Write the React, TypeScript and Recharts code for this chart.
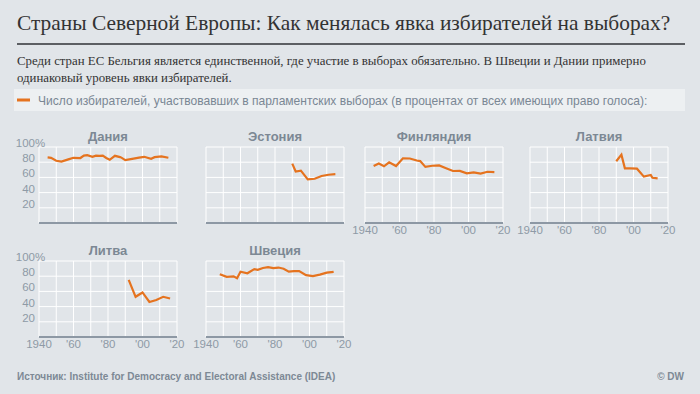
import React from "react";
import { LineChart, Line, XAxis, YAxis, CartesianGrid } from "recharts";

// axes
const decadeTicks = [1940, 1950, 1960, 1970, 1980, 1990, 2000, 2010, 2020];
const xLabelYears = [1940, 1960, 1980, 2000, 2020];
const xLabelTexts = ["1940", "'60", "'80", "'00", "'20"];
const yTicks = [0, 20, 40, 60, 80, 100];
const yLabelTexts = ["", "20", "40", "60", "80", "100"];

// turnout, % of registered voters
const denmarkYears = [1945, 1947, 1950, 1953, 1957, 1960, 1964, 1966, 1968, 1971, 1973, 1975, 1977, 1979, 1981, 1984, 1987, 1988, 1990, 1994, 1998, 2001, 2005, 2007, 2011, 2015];
const denmarkTurnout = [86.3, 85.8, 81.9, 80.7, 83.7, 85.8, 85.5, 88.6, 89.3, 87.2, 88.7, 88.2, 88.7, 85.6, 83.2, 88.4, 86.7, 85.7, 82.8, 84.3, 86.0, 87.1, 84.5, 86.6, 87.7, 85.9];

const estoniaYears = [1990, 1992, 1995, 1999, 2003, 2007, 2011, 2015];
const estoniaTurnout = [78.2, 67.8, 68.9, 57.4, 58.2, 61.9, 63.5, 64.2];

const finlandYears = [1945, 1948, 1951, 1954, 1958, 1962, 1966, 1970, 1972, 1975, 1979, 1983, 1987, 1991, 1995, 1999, 2003, 2007, 2011, 2015];
const finlandTurnout = [74.9, 78.2, 74.6, 79.9, 75.0, 85.1, 84.9, 82.2, 81.4, 73.8, 75.3, 75.7, 72.1, 68.4, 68.6, 65.3, 66.7, 65.0, 67.4, 66.9];

const latviaYears = [1990, 1993, 1995, 1998, 2002, 2006, 2010, 2011, 2014];
const latviaTurnout = [81.2, 89.9, 71.9, 71.9, 71.5, 61.0, 63.1, 59.5, 58.8];

const lithuaniaYears = [1992, 1996, 2000, 2004, 2008, 2012, 2016];
const lithuaniaTurnout = [75.2, 52.9, 58.6, 46.1, 48.6, 52.9, 50.6];

const swedenYears = [1948, 1952, 1956, 1958, 1960, 1964, 1968, 1970, 1973, 1976, 1979, 1982, 1985, 1988, 1991, 1994, 1998, 2002, 2006, 2010, 2014];
const swedenTurnout = [82.7, 79.1, 79.8, 77.4, 85.9, 83.9, 89.3, 88.3, 90.8, 91.8, 90.7, 91.4, 89.9, 86.0, 86.7, 86.8, 81.4, 80.1, 82.0, 84.6, 85.8];

const ORANGE = "#e5731f";
const TICK_GRAY = "#8e9aa6";
const TITLE_GRAY = "#7c8894";
const SANS = "Liberation Sans, Arial, sans-serif";
const SERIF = "Liberation Serif, Times New Roman, serif";

const Y_W = 40;
const M_TOP = 14;
const M_RIGHT = 10;
const X_H = 18;
const PLOT_W = 138;
const PLOT_H = 76;

const colLeft = [39, 206, 365, 530];
const rowTop = [147, 261];

function XTick({ x, y, payload, show }: any) {
  const i = xLabelYears.indexOf(payload.value);
  if (!show || i < 0) return null;
  return (
    <text x={x} y={y + 11} textAnchor="middle" fontSize={11.5} fill={TICK_GRAY} fontFamily={SANS}>
      {xLabelTexts[i]}
    </text>
  );
}

function YTick({ x, y, payload, show }: any) {
  const i = yTicks.indexOf(payload.value);
  if (!show || i < 0 || !yLabelTexts[i]) return null;
  const common = { fontSize: 11.5, fill: TICK_GRAY, fontFamily: SANS };
  return (
    <g>
      <text x={x - 4} y={y} textAnchor="end" {...common}>{yLabelTexts[i]}</text>
      {payload.value === 100 && (
        <text x={x - 4} y={y} textAnchor="start" {...common}>%</text>
      )}
    </g>
  );
}

function Panel({ title, years, values, col, row, showY, showX }: any) {
  const data = years.map((yr: number, i: number) => ({ year: yr, turnout: values[i] }));
  const left = colLeft[col];
  const top = rowTop[row];
  return (
    <div style={{ position: "absolute", left: left - Y_W, top: top - M_TOP }}>
      <LineChart
        width={Y_W + PLOT_W + M_RIGHT}
        height={M_TOP + PLOT_H + X_H}
        data={data}
        margin={{ top: M_TOP, right: M_RIGHT, bottom: 0, left: 0 }}
      >
        <CartesianGrid stroke="#ffffff" strokeWidth={1} />
        <XAxis
          type="number"
          dataKey="year"
          domain={[1940, 2020]}
          ticks={decadeTicks}
          interval={0}
          height={X_H}
          tickLine={false}
          tickSize={0}
          tickMargin={0}
          axisLine={{ stroke: "#8d98a4", strokeWidth: 2 }}
          tick={<XTick show={showX} />}
        />
        <YAxis
          type="number"
          domain={[0, 100]}
          ticks={yTicks}
          interval={0}
          width={Y_W}
          axisLine={false}
          tickLine={false}
          tickSize={0}
          tickMargin={0}
          tick={<YTick show={showY} />}
        />
        <Line
          type="linear"
          dataKey="turnout"
          stroke={ORANGE}
          strokeWidth={2.2}
          dot={false}
          isAnimationActive={false}
        />
      </LineChart>
      <div
        style={{
          position: "absolute",
          left: Y_W,
          top: M_TOP - 18,
          width: PLOT_W,
          textAlign: "center",
          fontFamily: SANS,
          fontWeight: "bold",
          fontSize: 13,
          lineHeight: "15px",
          color: TITLE_GRAY,
        }}
      >
        {title}
      </div>
    </div>
  );
}

export default function App() {
  return (
    <div style={{ position: "relative", width: 700, height: 394, background: "#e1e5e9", overflow: "hidden" }}>
      <style>{"body{margin:0}"}</style>
      <svg width={700} height={394} style={{ position: "absolute", left: 0, top: 0 }}>
        <text x={17} y={29.5} fontFamily={SERIF} fontSize={21.4} fill="#333">
          Страны Северной Европы: Как менялась явка избирателей на выборах?
        </text>
        <rect x={17} y={43} width={668} height={2} fill="#5c5f63" />
        <text x={17} y={65} fontFamily={SERIF} fontSize={12.85} fill="#333">
          Среди стран ЕС Бельгия является единственной, где участие в выборах обязательно. В Швеции и Дании примерно
        </text>
        <text x={17} y={82} fontFamily={SERIF} fontSize={12.85} fill="#333">
          одинаковый уровень явки избирателей.
        </text>
        <rect x={14} y={89} width={671} height={22} fill="#edf0f2" />
        <line x1={17} x2={30} y1={100} y2={100} stroke={ORANGE} strokeWidth={3} />
        <text x={38} y={104.5} fontFamily={SANS} fontSize={12.05} fill="#7a8794">
          Число избирателей, участвовавших в парламентских выборах (в процентах от всех имеющих право голоса):
        </text>
        <text x={17} y={380} fontFamily={SANS} fontWeight="bold" fontSize={10} fill="#7d8995">
          Источник: Institute for Democracy and Electoral Assistance (IDEA)
        </text>
        <text x={684} y={380} textAnchor="end" fontFamily={SANS} fontWeight="bold" fontSize={10} fill="#7d8995">
          © DW
        </text>
      </svg>
      <Panel title="Дания" years={denmarkYears} values={denmarkTurnout} col={0} row={0} showY showX={false} />
      <Panel title="Эстония" years={estoniaYears} values={estoniaTurnout} col={1} row={0} showY={false} showX={false} />
      <Panel title="Финляндия" years={finlandYears} values={finlandTurnout} col={2} row={0} showY={false} showX />
      <Panel title="Латвия" years={latviaYears} values={latviaTurnout} col={3} row={0} showY={false} showX />
      <Panel title="Литва" years={lithuaniaYears} values={lithuaniaTurnout} col={0} row={1} showY showX />
      <Panel title="Швеция" years={swedenYears} values={swedenTurnout} col={1} row={1} showY={false} showX />
    </div>
  );
}
